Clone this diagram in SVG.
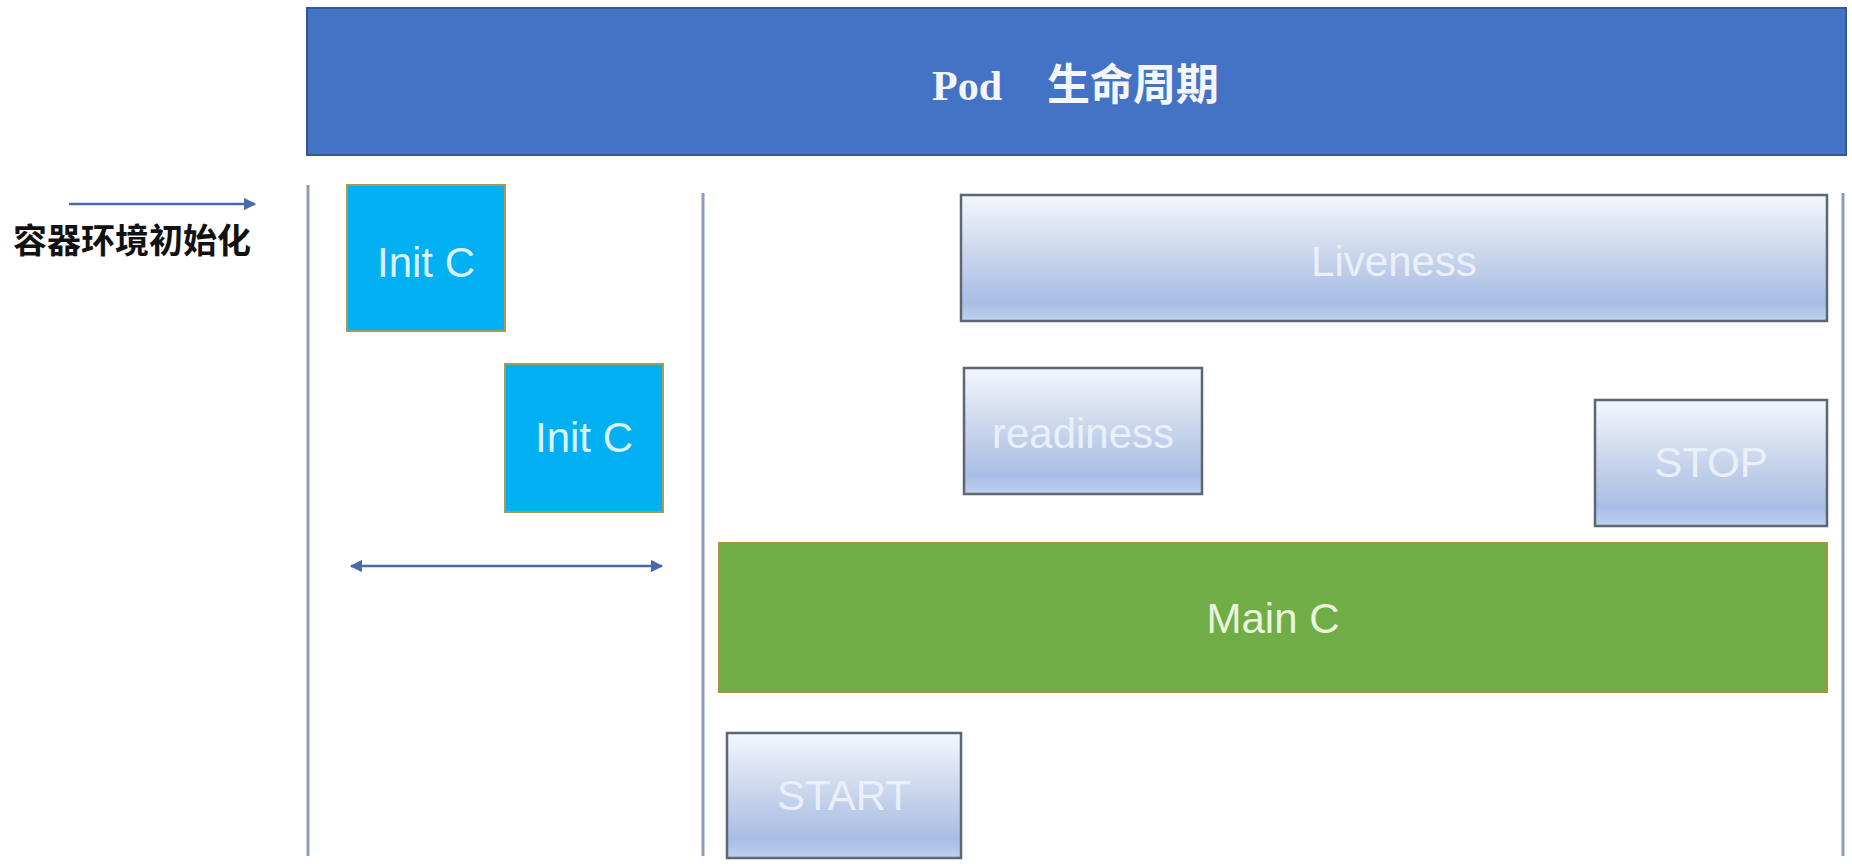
<svg xmlns="http://www.w3.org/2000/svg" width="1852" height="864" viewBox="0 0 1852 864">
  <defs>
    <linearGradient id="probe" x1="0" y1="0" x2="0" y2="1">
      <stop offset="0" stop-color="#f4f7fc"/>
      <stop offset="0.45" stop-color="#cbd7ec"/>
      <stop offset="0.85" stop-color="#a8bee4"/>
      <stop offset="1" stop-color="#bdd1ef"/>
    </linearGradient>
    <marker id="ah" viewBox="0 0 10 10" refX="9" refY="5" markerWidth="5" markerHeight="5" orient="auto-start-reverse" markerUnits="strokeWidth">
      <path d="M0,0 L10,5 L0,10 z" fill="#4a69a8"/>
    </marker>
    <style>
      .vline { stroke: #8d9cb8; stroke-width: 3; fill: none; }
      .conn { stroke: #4a69a8; stroke-width: 2.5; fill: none; }
      .init { fill: #00b0f0; stroke: #a89a55; stroke-width: 2; }
      .probe { fill: url(#probe); stroke: #5f6673; stroke-width: 2.5; }
      .main { fill: #70ad47; stroke: #b0903a; stroke-width: 2; }
      .lbl { font-family: "Liberation Sans", Arial, sans-serif; font-size: 42px; text-anchor: middle; }
      .init-t { fill: #dcf3ff; }
      .probe-t { fill: #eaf0f9; }
      .main-t { fill: #eaf6dc; }
    </style>
  </defs>

  <rect width="1852" height="864" fill="#ffffff"/>

  <g id="header">
    <rect x="307" y="8" width="1539" height="147" fill="#4472c4" stroke="#34569a" stroke-width="2"/>
    <text x="932" y="100" font-family="'Liberation Serif', 'Times New Roman', serif" font-weight="bold" font-size="42" fill="#f4f6fb">Pod</text>
    <text x="1047" y="100" font-family="'Noto Sans CJK SC', sans-serif" font-weight="bold" font-size="43" fill="#f4f6fb">生命周期</text>
  </g>

  <g id="phase-lines">
    <line class="vline" x1="308" y1="185" x2="308" y2="856"/>
    <line class="vline" x1="703" y1="193" x2="703" y2="856"/>
    <line class="vline" x1="1843" y1="193" x2="1843" y2="856"/>
  </g>

  <g id="env-init">
    <text x="13" y="253" font-family="'Noto Sans CJK SC', sans-serif" font-weight="bold" font-size="34" fill="#111111">容器环境初始化</text>
  </g>

  <g id="init-c-1">
    <rect class="init" x="347" y="185" width="158" height="146"/>
    <text class="lbl init-t" x="426" y="277">Init C</text>
  </g>

  <g id="init-c-2">
    <rect class="init" x="505" y="364" width="158" height="148"/>
    <text class="lbl init-t" x="584" y="452">Init C</text>
  </g>

  <g id="liveness">
    <rect class="probe" x="961" y="195" width="866" height="126"/>
    <text class="lbl probe-t" x="1394" y="276">Liveness</text>
  </g>

  <g id="readiness">
    <rect class="probe" x="964" y="368" width="238" height="126"/>
    <text class="lbl probe-t" x="1083" y="448">readiness</text>
  </g>

  <g id="stop">
    <rect class="probe" x="1595" y="400" width="232" height="126"/>
    <text class="lbl probe-t" x="1711" y="477">STOP</text>
  </g>

  <g id="main-c">
    <rect class="main" x="719" y="543" width="1108" height="149"/>
    <text class="lbl main-t" x="1273" y="633">Main C</text>
  </g>

  <g id="start">
    <rect class="probe" x="727" y="733" width="234" height="125"/>
    <text class="lbl probe-t" x="844" y="810">START</text>
  </g>

  <g id="connectors">
    <line class="conn" x1="69" y1="204" x2="255" y2="204" marker-end="url(#ah)"/>
    <line class="conn" x1="351" y1="566" x2="662" y2="566" marker-start="url(#ah)" marker-end="url(#ah)"/>
  </g>
</svg>
